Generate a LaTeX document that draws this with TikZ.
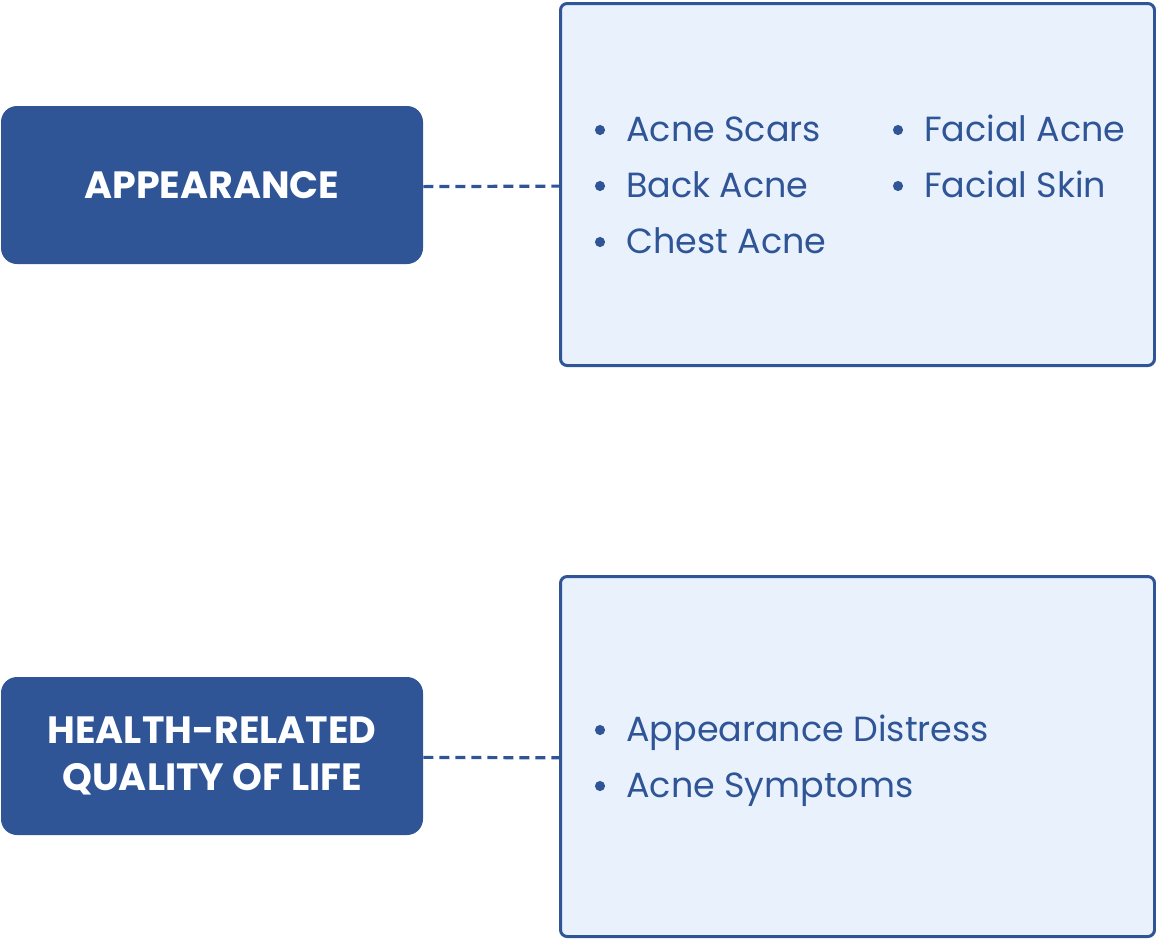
\documentclass[tikz,border=0pt]{standalone}
\usepackage{fontspec}
\setmainfont{Poppins}
\usepackage{xcolor}
\definecolor{Col1}{RGB}{47,85,151}
\definecolor{Col2}{RGB}{233,241,253}
\usepackage{tikz}
\usetikzlibrary{positioning}
\tikzstyle{Topic}=[rectangle,rounded corners=12pt,fill=Col1,text=white,
minimum width=316.5pt,minimum height=118.5pt,inner sep=0pt,align=center,
font=\bfseries\fontsize{28.5}{35}\selectfont]
\tikzstyle{ItemBox}=[rectangle,rounded corners=5pt,draw=Col1,fill=Col2,
line width=2.25pt,minimum width=445.5pt,inner sep=0pt]
\tikzstyle{Item}=[anchor=base west,inner sep=0pt,text=Col1,
font=\fontsize{26.2}{32}\selectfont]
\tikzstyle{Link}=[draw=Col1,line width=2.4pt,dash pattern=on 7.5pt off 4.5pt]

\begin{document}
\begin{tikzpicture}[x=0.75pt,y=-0.75pt]
            \useasboundingbox(0,0)rectangle(1156,940);
            \node[Topic](appearance)at(212,185){APPEARANCE};
            \node[Topic](hrqol)at(212,756){HEALTH-RELATED\\QUALITY OF LIFE};
            \node[ItemBox,minimum height=271.5pt](appbox)at(857.5,184.5){};
            \node[ItemBox,minimum height=270pt](hrqbox)at(857.5,756.5){};
            \draw[Link]([yshift=-1.2pt]appearance.east)--([yshift=-1.2pt]appbox.west);
            \draw[Link]([yshift=-1pt]hrqol.east)--([yshift=-1pt]hrqbox.west);
            \foreach \nm/\x/\y/\txt in {a1/626/141/Acne Scars,
                a2/626/197/Back Acne,a3/626/253/Chest Acne,
                a4/924/141/Facial Acne,a5/924/197/Facial Skin,
                h1/626/741/Appearance Distress,h2/626/797/Acne Symptoms}{
                \node[Item](\nm)at(\x,\y){\txt};
                \fill[Col1]([xshift=-19.5pt,yshift=8.25pt]\nm.base west)
                    circle(3.8pt);
            }
        \end{tikzpicture}
\end{document}
